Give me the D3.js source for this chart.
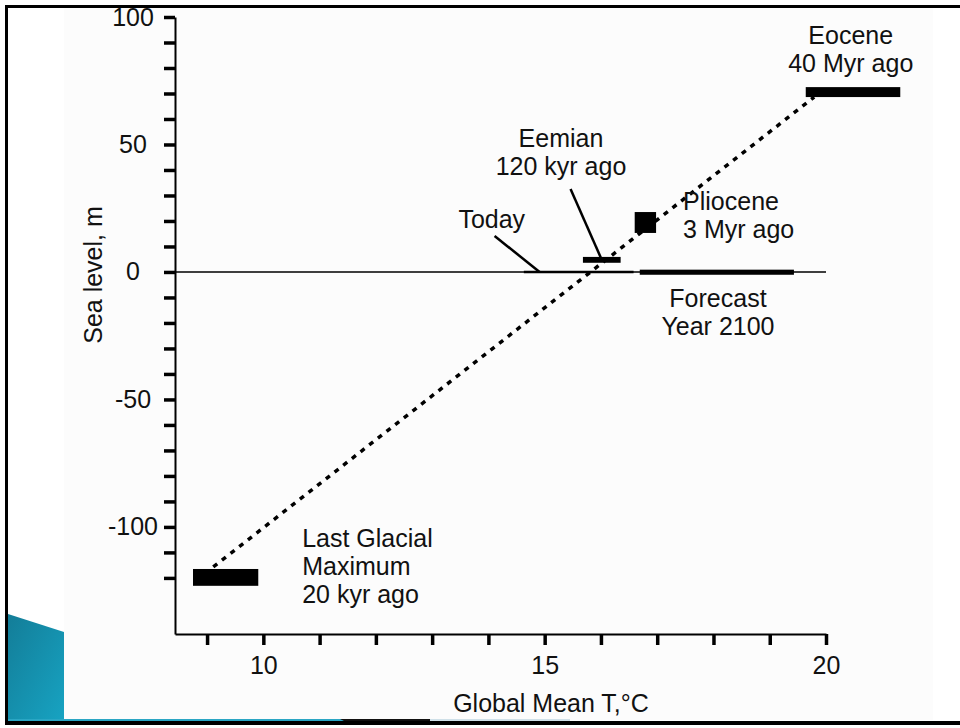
<!DOCTYPE html>
<html>
<head>
<meta charset="utf-8">
<script src="https://cdn.jsdelivr.net/npm/d3@7"></script>
<style>
  html, body { margin: 0; padding: 0; background: #ffffff; }
  svg { display: block; }
  text { font-family: "Liberation Sans", Arial, Helvetica, sans-serif; fill: #111; }
</style>
</head>
<body>
<svg id="chart" width="960" height="728"></svg>
<script>
// ---------------- DATA ----------------
// x axis: Global mean temperature (°C); y axis: sea level (m)
const xTickValues = [9, 10, 11, 12, 13, 14, 15, 16, 17, 18, 19, 20];
const xTickLabels = ["10", "15", "20"];
const yTickValues = [-120, -110, -100, -90, -80, -70, -60, -50, -40, -30, -20, -10, 0, 10, 20, 30, 40, 50, 60, 70, 80, 90, 100];
const yTickLabels = ["-100", "-50", "0", "50", "100"];

// Period boxes (temperature range, sea level range)
const barNames   = ["Last Glacial Maximum", "Eemian", "Pliocene", "Forecast 2100", "Eocene"];
const barTLow    = [8.75, 15.68, 16.60, 16.69, 19.64];
const barTHigh   = [9.91, 16.35, 16.98, 19.43, 21.32];
const barSLLow   = [-123.1, 3.6, 15.3, -1.1, 68.6];
const barSLHigh  = [-116.5, 5.9, 23.5, 0.9, 72.5];

// Today: present-day temperature range at sea level 0
const todayT  = [14.63, 16.58];
const todaySL = [0, 0];

// Dotted trend line through the periods
const trendT  = [9.11, 19.79];
const trendSL = [-115.7, 68.6];

// Leader lines (label -> mark)
const leaderNames = ["Today", "Eemian"];
const leaderT0  = [14.11, 15.46];
const leaderSL0 = [14.1, 32.5];
const leaderT1  = [14.91, 16.00];
const leaderSL1 = [0.0, 5.5];

// Annotation texts
const annText = [
  ["Eocene", "40 Myr ago"],
  ["Eemian", "120 kyr ago"],
  ["Today"],
  ["Pliocene", "3 Myr ago"],
  ["Forecast", "Year 2100"],
  ["Last Glacial", "Maximum", "20 kyr ago"]
];
const annT  = [20.44, 15.29, 14.06, 17.46, 18.08, 10.69];
const annSL = [89.4, 49.0, 17.2, 24.3, -13.7, -107.9];
const annAnchor = ["middle", "middle", "middle", "start", "middle", "start"];

const xTitle = "Global Mean T,°C";
const yTitle = "Sea level, m";

// ---------------- LAYOUT ----------------
const svg = d3.select("#chart");
const FONT = 25;
const LINE = 28;

// slide frame + decoration
const deco = svg.append("g");
deco.append("rect").attr("x", 64).attr("y", 8).attr("width", 869).attr("height", 712).attr("fill", "#fcfcfc");
const grad = svg.append("defs").append("linearGradient").attr("id", "blueg")
  .attr("x1", "0").attr("y1", "0").attr("x2", "1").attr("y2", "1");
grad.append("stop").attr("offset", "0").attr("stop-color", "#137d98");
grad.append("stop").attr("offset", "1").attr("stop-color", "#17a3c2");
deco.append("path").attr("d", "M8,614 L64,632 L64,721 L8,721 Z").attr("fill", "url(#blueg)");
deco.append("rect").attr("x", 8).attr("y", 719).attr("width", 338).attr("height", 3).attr("fill", "#2aa6c4");
deco.append("path").attr("d", "M340,719 L430,719 L440,722 L346,722 Z").attr("fill", "#111");
deco.append("rect").attr("x", 430).attr("y", 719).attr("width", 140).attr("height", 3).attr("fill", "#cfe0e8");
// black frame (top, left, bottom)
deco.append("rect").attr("x", 5).attr("y", 5).attr("width", 955).attr("height", 3).attr("fill", "#000");
deco.append("rect").attr("x", 5).attr("y", 5).attr("width", 3).attr("height", 720).attr("fill", "#000");
deco.append("rect").attr("x", 5).attr("y", 721).attr("width", 955).attr("height", 4).attr("fill", "#000");

// scales
const x = d3.scaleLinear().domain([8.43, 20]).range([175, 826]);
const y = d3.scaleLinear().domain([-142, 100]).range([634, 17]);

const g = svg.append("g");

// zero line
g.append("line")
  .attr("x1", x(8.43)).attr("x2", x(20)).attr("y1", y(0)).attr("y2", y(0))
  .attr("stroke", "#000").attr("stroke-width", 1.5);
// today segment
g.append("line")
  .attr("x1", x(todayT[0])).attr("x2", x(todayT[1]))
  .attr("y1", y(todaySL[0])).attr("y2", y(todaySL[1]))
  .attr("stroke", "#000").attr("stroke-width", 2.5);

// axes
const yAxis = d3.axisLeft(y).tickValues(yTickValues).tickSize(11).tickSizeOuter(0)
  .tickFormat(d => yTickLabels.includes(String(d)) ? String(d) : "");
const ya = g.append("g").attr("transform", `translate(${x(8.43)},0)`).call(yAxis);
ya.select(".domain").attr("stroke", "#000").attr("stroke-width", 2);
ya.selectAll(".tick line").attr("stroke", "#000").attr("stroke-width", 3.5);
ya.selectAll(".tick text").attr("x", -42).attr("text-anchor", "middle")
  .attr("font-size", FONT).attr("font-family", "Liberation Sans, Arial, sans-serif").attr("fill", "#111");

const xAxis = d3.axisBottom(x).tickValues(xTickValues).tickSize(11).tickSizeOuter(0)
  .tickFormat(d => xTickLabels.includes(String(d)) ? String(d) : "");
const xa = g.append("g").attr("transform", `translate(0,${y(-142)})`).call(xAxis);
xa.select(".domain").attr("stroke", "#000").attr("stroke-width", 2);
xa.selectAll(".tick line").attr("stroke", "#000").attr("stroke-width", 3.5);
xa.selectAll(".tick text").attr("y", 22)
  .attr("font-size", FONT).attr("font-family", "Liberation Sans, Arial, sans-serif").attr("fill", "#111");

// dotted trend line
const trendPts = trendT.map((t, i) => [t, trendSL[i]]);
g.append("path")
  .attr("d", d3.line().x(d => x(d[0])).y(d => y(d[1]))(trendPts))
  .attr("fill", "none").attr("stroke", "#000").attr("stroke-width", 3.5)
  .attr("stroke-dasharray", "5 6");

// period boxes
g.selectAll("rect.bar").data(barNames).join("rect").attr("class", "bar")
  .attr("x", (d, i) => x(barTLow[i]))
  .attr("width", (d, i) => x(barTHigh[i]) - x(barTLow[i]))
  .attr("y", (d, i) => y(barSLHigh[i]))
  .attr("height", (d, i) => y(barSLLow[i]) - y(barSLHigh[i]))
  .attr("fill", "#000");

// leader lines
g.selectAll("line.leader").data(leaderNames).join("line").attr("class", "leader")
  .attr("x1", (d, i) => x(leaderT0[i])).attr("y1", (d, i) => y(leaderSL0[i]))
  .attr("x2", (d, i) => x(leaderT1[i])).attr("y2", (d, i) => y(leaderSL1[i]))
  .attr("stroke", "#000").attr("stroke-width", 2.5);

// annotations
annText.forEach((lines, i) => {
  const t = g.append("text")
    .attr("x", x(annT[i])).attr("y", y(annSL[i]))
    .attr("text-anchor", annAnchor[i]).attr("font-size", FONT);
  lines.forEach((s, k) => {
    t.append("tspan").attr("x", x(annT[i])).attr("dy", k === 0 ? 0 : LINE).text(s);
  });
});

// axis titles
g.append("text").attr("x", 551).attr("y", 712).attr("text-anchor", "middle")
  .attr("font-size", FONT).text(xTitle);
g.append("text").attr("transform", "translate(102,275) rotate(-90)").attr("text-anchor", "middle")
  .attr("font-size", FONT).text(yTitle);
</script>
</body>
</html>
